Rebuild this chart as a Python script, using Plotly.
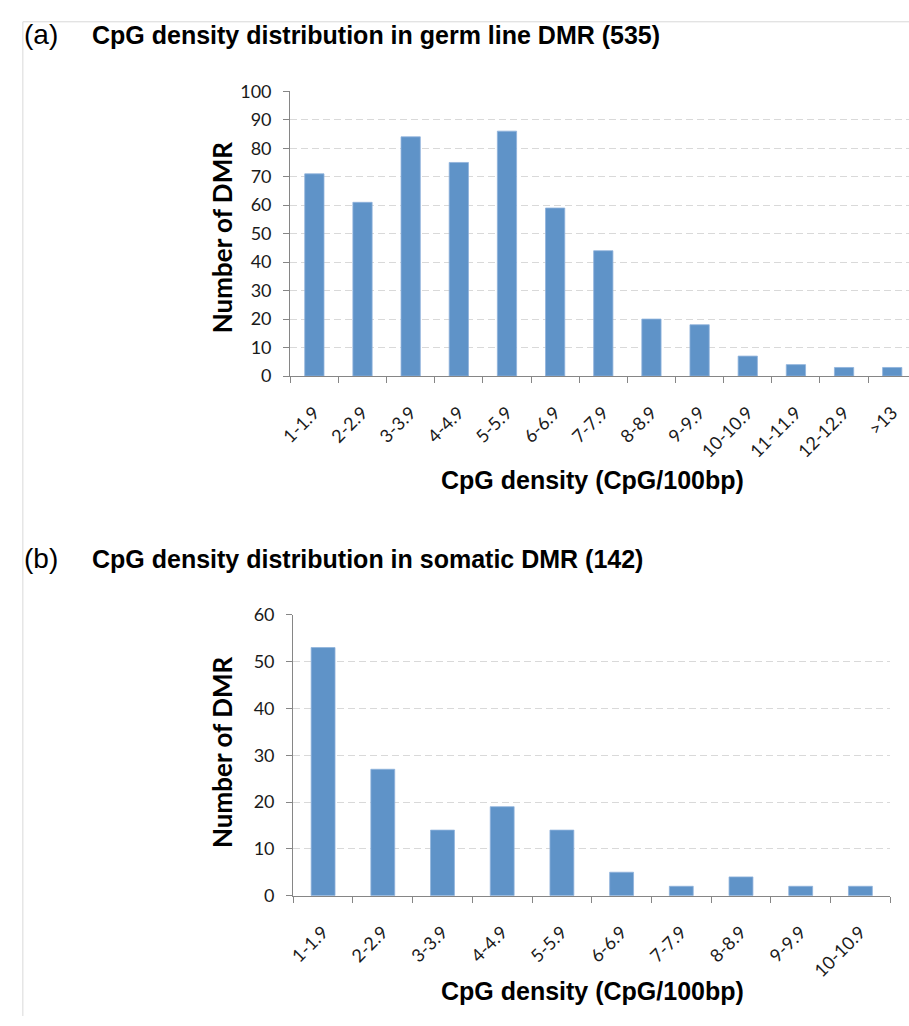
import plotly.graph_objects as go

# ---- data ----
cats_a = ["1-1.9", "2-2.9", "3-3.9", "4-4.9", "5-5.9", "6-6.9", "7-7.9",
          "8-8.9", "9-9.9", "10-10.9", "11-11.9", "12-12.9", ">13"]
vals_a = [71, 61, 84, 75, 86, 59, 44, 20, 18, 7, 4, 3, 3]

cats_b = ["1-1.9", "2-2.9", "3-3.9", "4-4.9", "5-5.9", "6-6.9", "7-7.9",
          "8-8.9", "9-9.9", "10-10.9"]
vals_b = [53, 27, 14, 19, 14, 5, 2, 4, 2, 2]

title_a = "CpG density distribution in germ line DMR (535)"
title_b = "CpG density distribution in somatic DMR (142)"
label_a = "(a)"
label_b = "(b)"
ytitle = "Number of DMR"
xtitle = "CpG density (CpG/100bp)"

W, H = 909, 1026
BAR = "#5f93c8"
AXIS = "#868686"
GRID = "#d9d9d9"
TXT = "#1a1a1a"


def px(x):
    return x / W


def py(y):
    return 1 - y / H


fig = go.Figure()
fig.add_trace(go.Bar(x=cats_a, y=vals_a, xaxis="x", yaxis="y", width=0.4,
                     marker=dict(color=BAR, line=dict(color="#8fb2dc", width=0.8)),
                     showlegend=False))
fig.add_trace(go.Bar(x=cats_b, y=vals_b, xaxis="x2", yaxis="y2", width=0.4,
                     marker=dict(color=BAR, line=dict(color="#8fb2dc", width=0.8)),
                     showlegend=False))

tickfont = dict(family="Lato, 'Open Sans', sans-serif", size=18, color=TXT)

common_x = dict(type="category", showline=True, linecolor=AXIS, linewidth=1.2,
                ticks="outside", ticklen=6, tickcolor=AXIS, tickwidth=1.2,
                tickson="boundaries", showgrid=False, tickangle=-45,
                tickfont=tickfont, ticklabelstandoff=18, zeroline=False,
                fixedrange=True)
common_y = dict(showline=True, linecolor=AXIS, linewidth=1.2, ticks="outside",
                ticklen=6, tickcolor=AXIS, tickwidth=1.2, showgrid=True,
                gridcolor=GRID, griddash="7px,4px", gridwidth=1, zeroline=False,
                tickfont=tickfont, ticklabelstandoff=8, fixedrange=True)

# panel a: plot area x 282..(916, cropped at the page edge), y 81..372
sp_a = 48.8
right_a = -0.5 + (W - 282) / sp_a
fig.update_layout(
    xaxis=dict(common_x, domain=[px(282), 1.0], range=[-0.5, right_a],
               anchor="y"),
    yaxis=dict(common_y, domain=[py(372), py(81)], range=[0, 100], dtick=10,
               anchor="x"),
    xaxis2=dict(common_x, domain=[px(285), px(890)], range=[-0.5, 9.5],
                anchor="y2"),
    yaxis2=dict(common_y, domain=[py(903), py(616)], range=[0, 60], dtick=10,
                anchor="x2"),
)

title_font = dict(family="'Liberation Sans', Arial, sans-serif", size=25,
                  color="#000000")
label_font = dict(family="'Liberation Sans', Arial, sans-serif", size=28,
                  color="#000000")
yt_font = dict(family="Lato, 'Open Sans', sans-serif", size=26, color="#000000")

ann = []
for lab, tit, base in [(label_a, title_a, 0), (label_b, title_b, 535)]:
    ann.append(dict(text=lab, x=px(10), y=py(23 + base), xref="paper",
                    yref="paper", xanchor="left", yanchor="middle",
                    showarrow=False, font=label_font))
    ann.append(dict(text="<b>" + tit + "</b>", x=px(79), y=py(24 + base),
                    xref="paper", yref="paper", xanchor="left",
                    yanchor="middle", showarrow=False, font=title_font))

for yc in [231, 757]:
    ann.append(dict(text="<b>" + ytitle + "</b>", x=px(213), y=py(yc),
                    xref="paper", yref="paper", xanchor="center",
                    yanchor="middle", textangle=-90, showarrow=False,
                    font=yt_font))
for yc in [478, 1000]:
    ann.append(dict(text="<b>" + xtitle + "</b>", x=px(588), y=py(yc),
                    xref="paper", yref="paper", xanchor="center",
                    yanchor="middle", showarrow=False, font=title_font))

shapes = [
    dict(type="line", xref="paper", yref="paper", x0=px(11), x1=1.0,
         y0=py(10), y1=py(10), line=dict(color=GRID, width=1)),
    dict(type="line", xref="paper", yref="paper", x0=px(11), x1=px(11),
         y0=py(10), y1=0, line=dict(color=GRID, width=1)),
]

fig.update_layout(
    width=W, height=H, autosize=False,
    margin=dict(l=0, r=0, t=0, b=0, pad=0),
    paper_bgcolor="white", plot_bgcolor="white",
    annotations=ann, shapes=shapes, bargap=0.6,
)

fig.write_html(
    "out.html",
    config={"displayModeBar": False},
    post_script=(
        "document.documentElement.style.margin='0';"
        "document.documentElement.style.overflow='hidden';"
        "document.body.style.margin='0';"
        "document.body.style.padding='0';"
        "document.body.style.overflow='hidden';"
    ),
)
